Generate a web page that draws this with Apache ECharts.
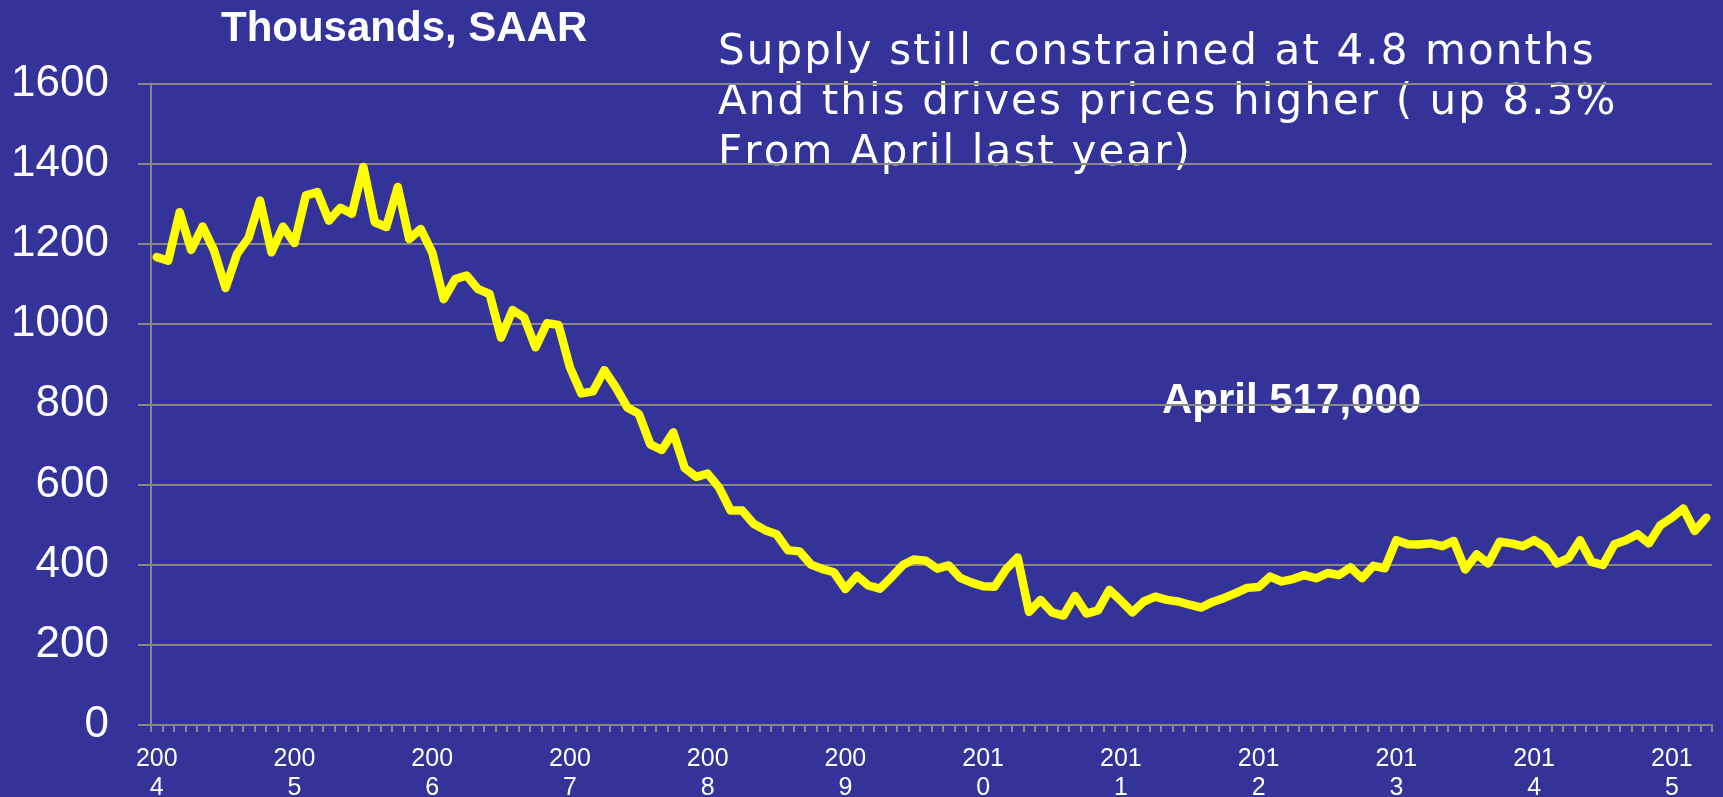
<!DOCTYPE html>
<html>
<head>
<meta charset="utf-8">
<script src="https://cdn.jsdelivr.net/npm/echarts@6/dist/echarts.min.js"></script>
<style>
  html, body { margin: 0; padding: 0; background: #333399; }
  #main { width: 1723px; height: 797px; }
</style>
</head>
<body>
<div id="main"></div>
<script>
// new home sales, thousands SAAR, Jan 2004 - Apr 2015
const years = ['2004', '2005', '2006', '2007', '2008', '2009', '2010', '2011', '2012', '2013', '2014', '2015'];
const monthsInLastYear = 4;

const sales2004 = [1167, 1158, 1279, 1185, 1243, 1183, 1090, 1175, 1215, 1308, 1179, 1243];
const sales2005 = [1202, 1321, 1329, 1258, 1290, 1275, 1392, 1254, 1242, 1342, 1212, 1237];
const sales2006 = [1179, 1062, 1112, 1121, 1087, 1075, 966, 1035, 1017, 942, 1002, 998];
const sales2007 = [892, 827, 832, 885, 842, 792, 776, 700, 686, 730, 641, 619];
const sales2008 = [627, 592, 535, 535, 502, 486, 476, 436, 433, 400, 389, 381];
const sales2009 = [339, 372, 348, 340, 368, 399, 413, 410, 390, 398, 367, 355];
const sales2010 = [346, 345, 388, 418, 282, 312, 281, 273, 322, 278, 286, 337];
const sales2011 = [310, 281, 308, 320, 312, 308, 300, 293, 307, 317, 329, 342];
const sales2012 = [344, 370, 358, 364, 374, 366, 379, 374, 393, 366, 397, 391];
const sales2013 = [461, 451, 450, 453, 446, 459, 388, 426, 403, 457, 453, 446];
const sales2014 = [461, 443, 403, 416, 461, 407, 399, 451, 461, 476, 453, 498];
const sales2015 = [517, 540, 484, 517];

const yTicks = { min: 0, max: 1600, interval: 200 };

const noteLines = [
    'Supply still constrained at 4.8 months',
    'And this drives prices higher ( up 8.3%',
    'From April last year)'
];

const sales = [].concat(sales2004, sales2005, sales2006, sales2007, sales2008, sales2009,
    sales2010, sales2011, sales2012, sales2013, sales2014, sales2015);

const categories = [];
years.forEach((y, i) => {
    const n = i === years.length - 1 ? monthsInLastYear : 12;
    for (let m = 1; m <= n; m++) categories.push(y + '-' + (m < 10 ? '0' + m : m));
});

const chart = echarts.init(document.getElementById('main'));
const font = '"Liberation Sans", Arial, sans-serif';
const noteFont = '42px "DejaVu Sans", Verdana, sans-serif';
const grey = '#888888';

// the note is letter-spaced, so lay it out one glyph at a time
const measure = document.createElement('canvas').getContext('2d');
measure.font = noteFont;
function spacedText(str, x, y, spacing) {
    const out = [];
    let cx = x;
    for (const ch of str) {
        if (ch !== ' ') {
            out.push({
                type: 'text', x: cx, y: y,
                style: { text: ch, fill: '#ffffff', font: noteFont, textVerticalAlign: 'middle' }
            });
        }
        cx += measure.measureText(ch).width + spacing;
    }
    return out;
}
const noteGlyphs = [];
noteLines.forEach((line, i) => {
    noteGlyphs.push(...spacedText(line, 718, 53 + i * 50.5, 2.1));
});

chart.setOption({
    backgroundColor: '#333399',
    animation: false,
    grid: { left: 151, right: 11, top: 83.5, bottom: 72, containLabel: false, outerBoundsMode: 'none' },
    xAxis: {
        type: 'category',
        data: categories,
        boundaryGap: true,
        axisLine: { lineStyle: { color: grey, width: 2 } },
        axisTick: { show: true, interval: 0, length: 7, lineStyle: { color: grey, width: 2 } },
        axisLabel: {
            interval: (i) => i % 12 === 0,
            color: '#ffffff',
            fontFamily: font,
            fontSize: 25,
            lineHeight: 29,
            margin: 20,
            formatter: (v) => v.slice(0, 3) + '\n' + v.slice(3, 4)
        },
        splitLine: { show: false }
    },
    yAxis: {
        type: 'value',
        min: yTicks.min,
        max: yTicks.max,
        interval: yTicks.interval,
        axisLine: { show: true, lineStyle: { color: grey, width: 2 } },
        axisTick: { show: true, length: 13, lineStyle: { color: grey, width: 2 } },
        axisLabel: {
            color: '#ffffff', fontFamily: font, fontSize: 44, margin: 42,
            formatter: (v) => String(v)
        },
        splitLine: { lineStyle: { color: grey, width: 2 } }
    },
    series: [{
        type: 'line',
        data: sales,
        showSymbol: false,
        symbol: 'none',
        lineStyle: { color: '#ffff00', width: 8.5, join: 'round', cap: 'round' }
    }],
    graphic: [
        {
            type: 'text', left: 221, top: 29 - 21,
            style: { text: 'Thousands, SAAR', fill: '#ffffff', font: 'bold 42px ' + font }
        },
        {
            type: 'text', left: 1162, top: 401 - 21,
            style: { text: 'April 517,000', fill: '#ffffff', font: 'bold 42px ' + font }
        },
        { type: 'group', children: noteGlyphs }
    ]
});
</script>
</body>
</html>
